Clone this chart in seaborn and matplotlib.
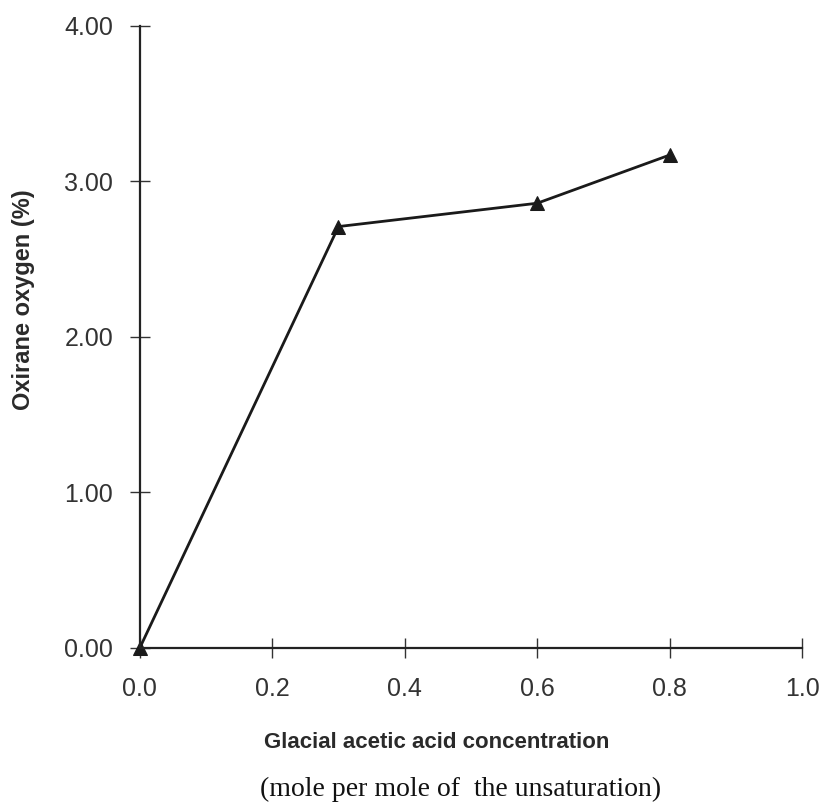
import matplotlib
matplotlib.use("Agg")
import matplotlib.pyplot as plt
import seaborn as sns
import pandas as pd

conc = [0.0, 0.3, 0.6, 0.8]
oxirane = [0.00, 2.71, 2.86, 3.17]
xticks = [0.0, 0.2, 0.4, 0.6, 0.8, 1.0]
yticks = [0.0, 1.0, 2.0, 3.0, 4.0]

df = pd.DataFrame({"conc": conc, "oxirane": oxirane})

sns.set_style("white")
plt.rcParams["font.family"] = ["Liberation Sans", "DejaVu Sans"]

fig = plt.figure(figsize=(8.27, 8.11), dpi=100)
ax = fig.add_axes([0.169, 0.201, 0.801, 0.767])

sns.lineplot(data=df, x="conc", y="oxirane", ax=ax, color="#1a1a1a",
             marker="^", markersize=10, markeredgecolor="#1a1a1a",
             linewidth=2.0, clip_on=False)

ax.set_xlim(0, 1.0)
ax.set_ylim(0, 4.0)
ax.set_xticks(xticks)
ax.set_yticks(yticks)
ax.set_xticklabels([f"{v:.1f}" for v in xticks], fontsize=18, color="#333333")
ax.set_yticklabels([f"{v:.2f}" for v in yticks], fontsize=18, color="#333333")
ax.tick_params(axis="both", which="major", direction="inout", length=14, width=1.0,
               color="#333333", bottom=True, left=True)
ax.tick_params(axis="x", pad=14)
ax.tick_params(axis="y", pad=12)

for s in ["top", "right"]:
    ax.spines[s].set_visible(False)
for s in ["left", "bottom"]:
    ax.spines[s].set_color("#222222")
    ax.spines[s].set_linewidth(1.6)

ax.set_xlabel("")
ax.set_ylabel("")

fig.text(0.028, 0.63, "Oxirane oxygen (%)", fontsize=17, fontweight="bold",
         color="#2a2a2a", ha="center", va="center", rotation=90)
fig.text(0.528, 0.085, "Glacial acetic acid concentration", fontsize=16, fontweight="bold",
         color="#2a2a2a", ha="center", va="center")
fig.text(0.557, 0.026, "(mole per mole of  the unsaturation)", fontsize=20,
         family=["Liberation Serif", "DejaVu Serif"], color="#111111", ha="center", va="center")

fig.savefig("out.png", dpi=100)
